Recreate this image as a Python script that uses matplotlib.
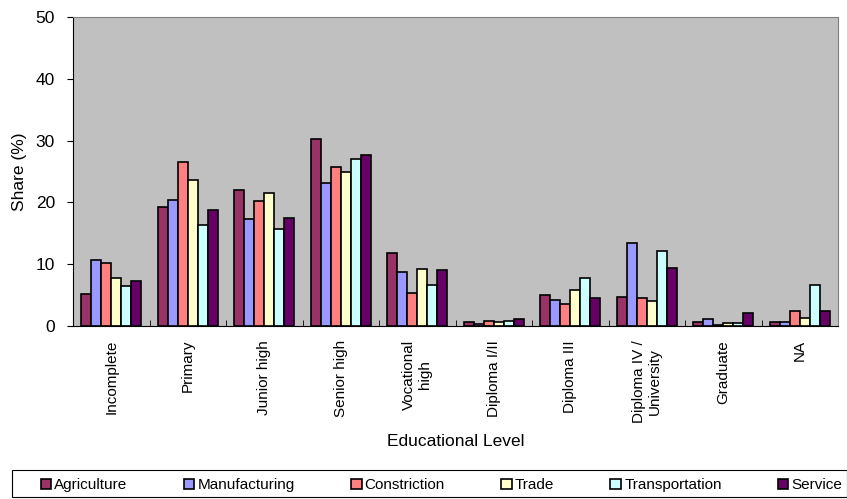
import matplotlib
matplotlib.use("Agg")
import matplotlib.pyplot as plt
from matplotlib.patches import Rectangle
import numpy as np

plt.rcParams['font.family'] = ['Liberation Sans', 'DejaVu Sans']

# data
levels = ["Incomplete", "Primary", "Junior high", "Senior high", "Vocational\nhigh",
          "Diploma I/II", "Diploma III", "Diploma IV /\nUniversity", "Graduate", "NA"]
sectors = ["Agriculture", "Manufacturing", "Constriction", "Trade", "Transportation", "Service"]
agriculture = [5.2, 19.2, 22.0, 30.2, 11.8, 0.6, 5.0, 4.7, 0.7, 0.6]
manufacturing = [10.6, 20.4, 17.3, 23.2, 8.8, 0.3, 4.2, 13.4, 1.1, 0.7]
construction = [10.2, 26.6, 20.3, 25.8, 5.4, 0.8, 3.5, 4.6, 0.2, 2.4]
trade = [7.8, 23.7, 21.6, 25.0, 9.3, 0.7, 5.8, 4.1, 0.5, 1.3]
transportation = [6.4, 16.3, 15.7, 27.0, 6.6, 0.8, 7.7, 12.2, 0.5, 6.6]
service = [7.3, 18.7, 17.5, 27.6, 9.0, 1.2, 4.6, 9.4, 2.1, 2.5]
series = [agriculture, manufacturing, construction, trade, transportation, service]
colors = ["#993366", "#9999FF", "#FF8080", "#FFFFCC", "#CCFFFF", "#660066"]

fig = plt.figure(figsize=(8.47, 4.99), dpi=100)
ax = fig.add_axes([73 / 847, 1 - 326 / 499, (838 - 73) / 847, (326 - 17) / 499])
ax.set_facecolor("#C0C0C0")

x = np.arange(len(levels))
w = 0.13
for i, (vals, name, c) in enumerate(zip(series, sectors, colors)):
    ax.bar(x + (i - 2.5) * w, vals, w, color=c, edgecolor="black", linewidth=1.2, label=name)

ax.set_xlim(-0.5, len(levels) - 0.5)
ax.set_ylim(0, 50)
ax.set_yticks(range(0, 51, 10))
ax.set_xticks(x)
ax.set_xticklabels(levels, rotation=90, fontsize=11, va="top", ha="center", multialignment="center")
ax.tick_params(axis="x", length=0, pad=10)
ax.set_xticks(np.arange(0.5, len(levels) - 0.5, 1), minor=True)
ax.tick_params(axis="x", which="minor", length=4, direction="in")
ax.tick_params(axis="y", labelsize=12.5, length=4, direction="out", pad=9)
for s in ["top", "right"]:
    ax.spines[s].set_color("#808080")
ax.set_ylabel("Share (%)", fontsize=12.5, labelpad=6)
ax.set_xlabel("Educational Level", fontsize=12.5, labelpad=8)

# legend box spans the full width, entries start a bit further in
fig.patches.append(Rectangle((12 / 847, 2 / 499), (847 - 12) / 847, 27 / 499,
                             transform=fig.transFigure, fill=False, edgecolor="black", linewidth=0.8))
fig.legend(loc="lower left", bbox_to_anchor=(36 / 847, 2 / 499, (847 - 36) / 847, 27 / 499),
           ncol=6, mode="expand", fontsize=11, frameon=False,
           handlelength=0.7, handleheight=0.7, handletextpad=0.2,
           borderaxespad=0, borderpad=0.3)

fig.savefig("out.png", dpi=100)
